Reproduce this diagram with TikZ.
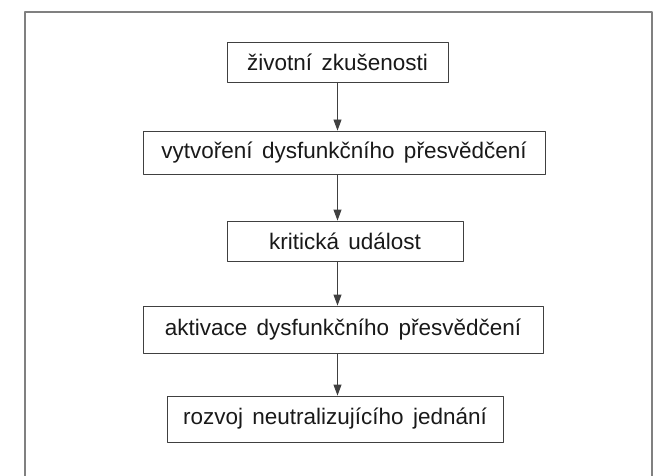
\documentclass[tikz,border=0pt]{standalone}
\usepackage{fontspec}
\setmainfont{Liberation Sans}[WordSpace=1.5]
\usetikzlibrary{arrows.meta}
\begin{document}
\begin{tikzpicture}[x=1pt, y=-1pt, line cap=round, line join=round,
    stepbox/.style={draw=black!75, line width=0.9pt, rectangle, inner sep=0pt,
        font=\fontsize{22.5}{26}\selectfont, text=black!90},
    arr/.style={draw=black!75, line width=0.9pt, -{Triangle[length=11pt, width=8pt]}}]

    \useasboundingbox (0,0) rectangle (664,476);

    % frame, open at the bottom
    \draw[black!50, line width=1.2pt] (25,476) -- (25,12) -- (652,12) -- (652,476);

    \node[stepbox, minimum width=221pt, minimum height=40pt] (zkus) at (337.5,62) {životní zkušenosti};
    \node[stepbox, minimum width=402pt, minimum height=43pt] (vytv) at (344,152.5) {vytvoření dysfunkčního přesvědčení};
    \node[stepbox, minimum width=236pt, minimum height=40pt] (krit) at (345,241) {kritická událost};
    \node[stepbox, minimum width=400pt, minimum height=47pt] (aktiv) at (343,329.5) {aktivace dysfunkčního přesvědčení};
    \node[stepbox, minimum width=336pt, minimum height=46pt] (rozvoj) at (335,419) {rozvoj neutralizujícího jednání};

    \draw[arr] (zkus) -- (zkus |- vytv.north);
    \draw[arr] (vytv.south -| zkus) -- (krit.north -| zkus);
    \draw[arr] (krit.south -| zkus) -- (aktiv.north -| zkus);
    \draw[arr] (aktiv.south -| zkus) -- (rozvoj.north -| zkus);

\end{tikzpicture}
\end{document}
